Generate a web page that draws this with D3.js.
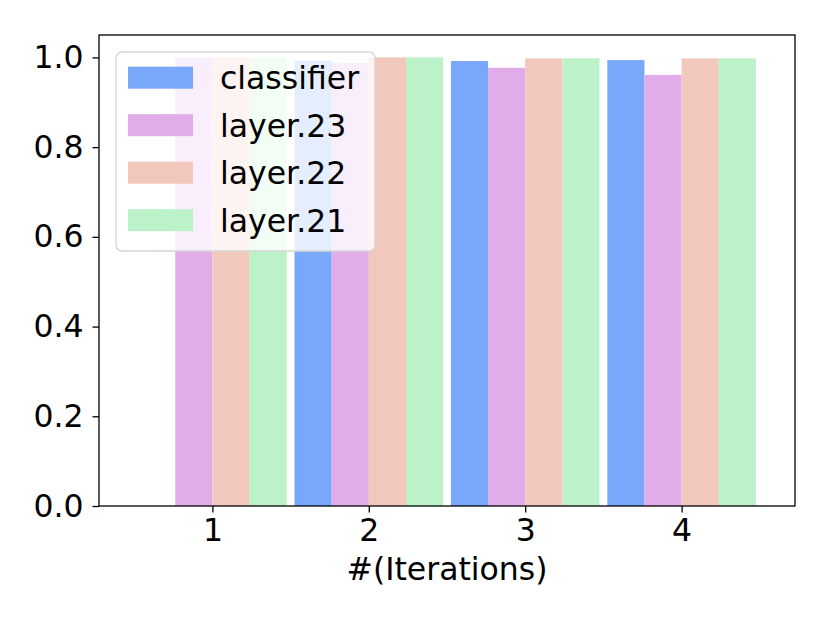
<!DOCTYPE html>
<html>
<head>
<meta charset="utf-8">
<script src="https://cdn.jsdelivr.net/npm/d3@7"></script>
<style>
body { margin: 0; background: #fff; }
text { font-family: "DejaVu Sans", sans-serif; fill: #000; }
</style>
</head>
<body>
<svg id="chart" width="830" height="623"></svg>
<script>
var iterations = [1, 2, 3, 4];
var seriesNames = ["classifier", "layer.23", "layer.22", "layer.21"];
var classifierValues = [0, 0.993, 0.992, 0.994];
var layer23Values = [1.0, 0.988, 0.977, 0.961];
var layer22Values = [1.0, 1.0, 0.998, 0.998];
var layer21Values = [1.0, 1.0, 0.998, 0.998];
var yTicks = [0.0, 0.2, 0.4, 0.6, 0.8, 1.0];
var seriesColors = ["#79a8fb", "#e2abea", "#f2c8bc", "#bcf2c9"];

var seriesValues = [classifierValues, layer23Values, layer22Values, layer21Values];

var svg = d3.select("#chart");
var plotLeft = 99, plotRight = 795, plotTop = 35, plotBottom = 506;
var fontSize = 31.5;

var barWidth = 0.2375;
var xScale = d3.scaleLinear().domain([0.275, 4.725]).range([plotLeft, plotRight]);
var yScale = d3.scaleLinear().domain([0, 1.05]).range([plotBottom, plotTop]);

// flatten into bar records
var bars = [];
for (var s = 0; s < seriesNames.length; s++)
{
	for (var i = 0; i < iterations.length; i++)
	{
		bars.push({
			series: s,
			x: iterations[i] + (s - 2) * barWidth,
			value: seriesValues[s][i]
		});
	}
}

svg.append("g")
	.attr("class", "bars")
	.selectAll("rect")
	.data(bars).enter()
	.append("rect")
	.attr("x", function(d){ return xScale(d.x); })
	.attr("y", function(d){ return yScale(d.value); })
	.attr("width", function(d){ return xScale(d.x + barWidth) - xScale(d.x); })
	.attr("height", function(d){ return yScale(0) - yScale(d.value); })
	.attr("fill", function(d){ return seriesColors[d.series]; });

// axes
var xAxis = d3.axisBottom(xScale)
	.tickValues(iterations)
	.tickFormat(d3.format("d"))
	.tickSizeInner(6.5)
	.tickSizeOuter(0)
	.tickPadding(6);
var yAxis = d3.axisLeft(yScale)
	.tickValues(yTicks)
	.tickFormat(d3.format(".1f"))
	.tickSizeInner(6.5)
	.tickSizeOuter(0)
	.tickPadding(9);

var gx = svg.append("g")
	.attr("transform", "translate(0," + plotBottom + ")")
	.call(xAxis);
var gy = svg.append("g")
	.attr("transform", "translate(" + plotLeft + ",0)")
	.call(yAxis);

[gx, gy].forEach(function(g){
	g.select(".domain").remove();
	g.selectAll(".tick line").attr("stroke", "#000").attr("stroke-width", 1.3);
	g.selectAll(".tick text")
		.style("font-family", "DejaVu Sans")
		.style("font-size", fontSize + "px")
		.attr("fill", "#000");
});

// frame
svg.append("rect")
	.attr("x", plotLeft)
	.attr("y", plotTop)
	.attr("width", plotRight - plotLeft)
	.attr("height", plotBottom - plotTop)
	.attr("fill", "none")
	.attr("stroke", "#000")
	.attr("stroke-width", 1.3);

svg.append("text")
	.attr("x", (plotLeft + plotRight) / 2)
	.attr("y", 580)
	.attr("text-anchor", "middle")
	.style("font-size", fontSize + "px")
	.text("#(Iterations)");

// legend
var legend = svg.append("g").attr("class", "legend");
legend.append("rect")
	.attr("x", 116)
	.attr("y", 52)
	.attr("width", 259)
	.attr("height", 199)
	.attr("rx", 6)
	.attr("fill", "#fff")
	.attr("fill-opacity", 0.8)
	.attr("stroke", "#d6d6d6")
	.attr("stroke-width", 1.3);

var legendRow = legend.selectAll("g.row")
	.data(seriesNames).enter()
	.append("g")
	.attr("class", "row")
	.attr("transform", function(d, i){ return "translate(128," + (77.7 + i * 47.5) + ")"; });

legendRow.append("rect")
	.attr("x", 0)
	.attr("y", -11)
	.attr("width", 65)
	.attr("height", 22)
	.attr("fill", function(d, i){ return seriesColors[i]; });

legendRow.append("text")
	.attr("x", 92)
	.attr("dy", "0.36em")
	.style("font-size", fontSize + "px")
	.text(function(d){ return d; });
</script>
</body>
</html>
